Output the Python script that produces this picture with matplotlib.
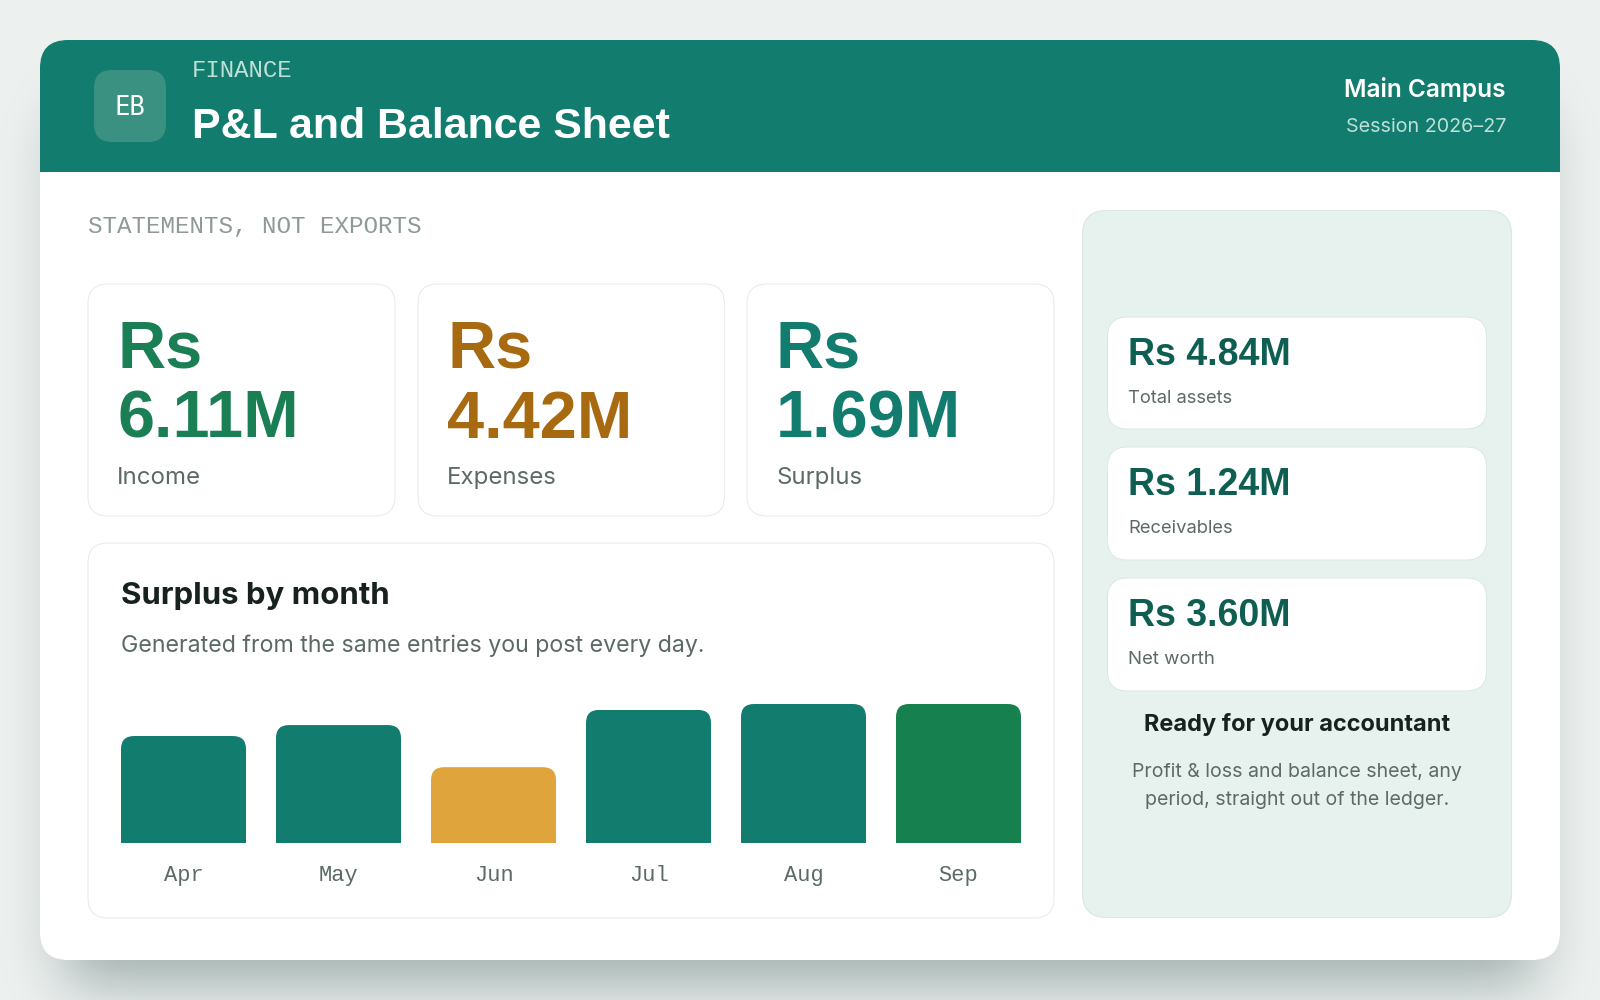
import math
import numpy as np
import matplotlib
matplotlib.use("Agg")
import matplotlib.pyplot as plt
from matplotlib.patches import FancyBboxPatch, Rectangle
from matplotlib.transforms import IdentityTransform

# ---- data
months = ["Apr", "May", "Jun", "Jul", "Aug", "Sep"]
surplus_m = [0.254, 0.280, 0.180, 0.316, 0.330, 0.330]
bar_colors = ["#127C6E", "#127C6E", "#E0A43C", "#127C6E", "#127C6E", "#16804F"]
kpi_values = ["Rs\n6.11M", "Rs\n4.42M", "Rs\n1.69M"]
kpi_labels = ["Income", "Expenses", "Surplus"]
kpi_colors = ["#1A7F54", "#A86A10", "#127C6E"]
side_values = ["Rs 4.84M", "Rs 1.24M", "Rs 3.60M"]
side_labels = ["Total assets", "Receivables", "Net worth"]

SANS = "Inter"
HEAD = "Liberation Sans"
MONO = "Liberation Mono"
W, H = 1600, 1000

fig = plt.figure(figsize=(16, 10), dpi=100)
bg = fig.add_axes([0, 0, 1, 1])
bg.set_xlim(0, W)
bg.set_ylim(H, 0)
bg.axis("off")

# page background with soft shadow of the card
verf = np.vectorize(math.erf)
xs = np.arange(W) + .5
ys = np.arange(H) + .5
s = 30 * math.sqrt(2)
mx = .5 * (verf((xs - 64) / s) - verf((xs - 1536) / s))
my = .5 * (verf((ys - 112) / s) - verf((ys - 984) / s))
alpha = np.outer(my, mx)[..., None] * .35
base = np.array([237, 241, 240]) / 255
shade = np.array([15, 50, 45]) / 255
bg.imshow(base * (1 - alpha) + shade * alpha, extent=(0, W, H, 0), aspect="auto", zorder=0)
bg.set_xlim(0, W)
bg.set_ylim(H, 0)


def rrect(x0, y0, x1, y1, r, fc, ec="none", lw=0, z=1):
    p = FancyBboxPatch((x0 + r, y0 + r), x1 - x0 - 2 * r, y1 - y0 - 2 * r,
                       boxstyle=f"round,pad={r},rounding_size={r}",
                       fc=fc, ec=ec, lw=lw, zorder=z)
    bg.add_patch(p)
    return p


def T(x, y, s, px, color, family=SANS, weight="normal", ha="left", va="baseline", width=None, **kw):
    t = bg.text(x, y, s, fontsize=px * .72, color=color, family=family, weight=weight,
                ha=ha, va=va, zorder=5, **kw)
    if width:
        r = fig.canvas.get_renderer()
        w = t.get_window_extent(r).width
        t.set_fontsize(t.get_fontsize() * width / w)
    return t


card = rrect(40, 40, 1560, 960, 28, "white", z=1)
hdr = Rectangle((40, 40), 1520, 132, fc="#127C6E", ec="none", zorder=2)
bg.add_patch(hdr)
hdr.set_clip_path(card)

rrect(94, 70, 166, 142, 18, "#3A9182", z=3)
T(130, 115, "EB", 25.5, "#FFFFFF", "DejaVu Sans Mono", ha="center")
T(192, 77, "FINANCE", 24, "#BFE0D8", MONO)
T(192, 138, "P&L and Balance Sheet", 43, "#FFFFFF", HEAD, weight="bold", width=478)
T(1506, 97, "Main Campus", 24, "#FFFFFF", weight="semibold", ha="right", width=162)
T(1506, 132, "Session 2026–27", 20, "#BFE0D8", ha="right", width=161)
T(88, 233, "STATEMENTS, NOT EXPORTS", 24.3, "#8F9A97", MONO)

# KPI cards
kx = [(88, 395), (418, 724.5), (747, 1054)]
for (x0, x1), v, l, c in zip(kx, kpi_values, kpi_labels, kpi_colors):
    rrect(x0, 284, x1, 516, 20, "white", ec="#E8ECEB", lw=0.8, z=3)
    T(x0 + 29, 438, v, 66.6, c, HEAD, weight="bold", linespacing=1.17)
    T(x0 + 29, 484, l, 24, "#5B6A66")

# chart card
rrect(88, 543, 1054, 918, 20, "white", ec="#E8ECEB", lw=0.8, z=3)
T(121, 604, "Surplus by month", 31, "#17211E", weight="bold", width=268)
T(121, 652, "Generated from the same entries you post every day.", 24, "#5B6A66", width=585)

# bars
ax_l, ax_r, ax_b, ax_t = 121, 1021, 843, 695
ax = fig.add_axes([ax_l / W, 1 - ax_b / H, (ax_r - ax_l) / W, (ax_b - ax_t) / H])
ax.patch.set_alpha(0)
ax.set_zorder(5)
bw = 125 / 155
bars = ax.bar(range(len(months)), surplus_m, width=bw, color=bar_colors)
ax.set_xlim(-bw / 2, len(months) - 1 + bw / 2)
ax.set_ylim(0, max(surplus_m) * 148 / 139)
ax.set_xticks(range(len(months)), months, family=MONO, fontsize=22 * .72, color="#5B6A66")
ax.set_yticks([])
ax.tick_params(axis="x", length=0, pad=15.8)
for sp in ax.spines.values():
    sp.set_visible(False)
r = 13
for b in bars:
    e = b.get_window_extent(fig.canvas.get_renderer())
    clip = FancyBboxPatch((e.x0 + r, e.y0 - 40), e.width - 2 * r, e.height + 40 - r,
                          boxstyle=f"round,pad={r},rounding_size={r}",
                          transform=IdentityTransform())
    b.set_clip_path(clip)

# right panel
rrect(1082.5, 210.5, 1511.5, 917.5, 24, "#E7F2EF", ec="#D9E8E4", lw=0.8, z=3)
rows = [(317, 429, 365, 403, 105), (447, 560, 495, 533, 105), (578, 691, 626, 664, 87)]
for (y0, y1, yv, yl, lw_), v, l in zip(rows, side_values, side_labels):
    rrect(1107.5, y0, 1486.5, y1, 20, "white", ec="#D9E8E4", lw=0.7, z=4)
    T(1128, yv, v, 37, "#0F5E52", HEAD, weight="bold", width=163)
    T(1128, yl, l, 20, "#5B6A66", width=lw_)
T(1297, 731, "Ready for your accountant", 24, "#17211E", weight="bold", ha="center", width=306)
T(1297, 805, "Profit & loss and balance sheet, any\nperiod, straight out of the ledger.", 21,
  "#5B6A66", ha="center", linespacing=1.7, multialignment="center", width=329)

fig.savefig("out.png", dpi=100)
